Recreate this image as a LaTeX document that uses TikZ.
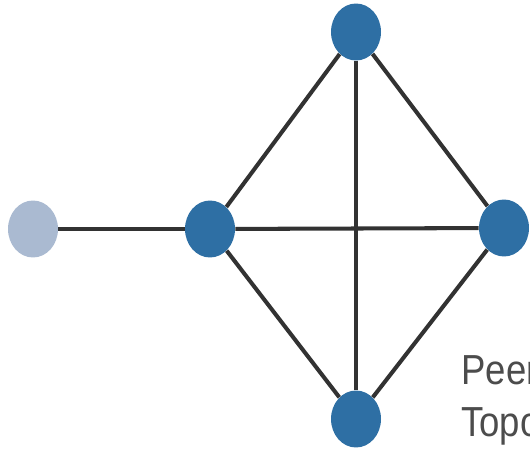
\documentclass[tikz,border=0pt]{standalone}
\usepackage{fontspec}
\newfontfamily\labelfont[FakeStretch=0.87]{Liberation Sans}
\usetikzlibrary{shapes.geometric}
\definecolor{peerblue}{RGB}{46,111,164}
\definecolor{peerlight}{RGB}{170,186,209}
\definecolor{linkgray}{RGB}{50,50,50}
\begin{document}
\begin{tikzpicture}[x=0.02cm,y=0.02cm,
  peer/.style={ellipse, fill=peerblue, minimum width=1cm, minimum height=1.14cm, inner sep=0pt},
  outer/.style={peer, fill=peerlight},
  link/.style={draw=linkgray, line width=2.3pt}]
\useasboundingbox (0,0) rectangle (530,450);
\node[outer] (ext) at (33,221) {};
\node[peer] (west) at (210,221) {};
\node[peer] (north) at (356,418) {};
\node[peer] (east) at (504,222) {};
\node[peer] (south) at (356,31) {};
\draw[link] (ext) -- (west);
\draw[link] (west) -- (east);
\draw[link] (west) -- (north);
\draw[link] (west) -- (south);
\draw[link] (north) -- (south);
\draw[link] (north) -- (east);
\draw[link] (east) -- (south);
% caption runs past the right edge, as in the source figure
\node[anchor=base west, align=left, text=black!70, inner sep=0pt,
  font=\labelfont\fontsize{23.9}{29.5}\selectfont] (caption) at (461,14)
{Peer\\Topo};
\end{tikzpicture}
\end{document}
